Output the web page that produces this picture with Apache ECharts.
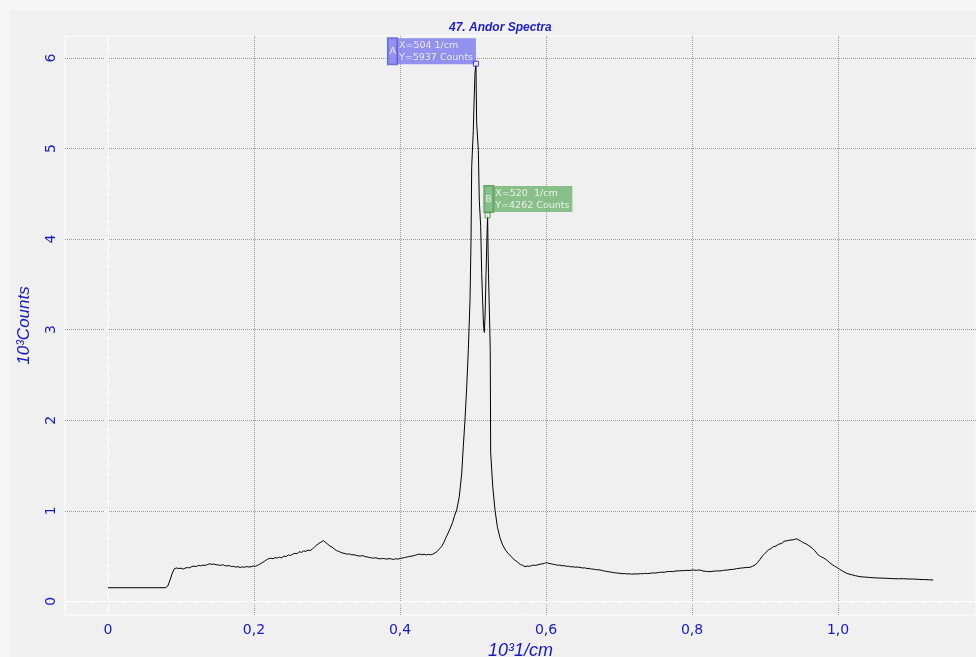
<!DOCTYPE html>
<html><head><meta charset="utf-8">
<script src="https://cdn.jsdelivr.net/npm/echarts@6/dist/echarts.min.js"></script>
<style>html,body{margin:0;padding:0;background:#f0f0f0}#c{width:976px;height:657px}</style>
</head><body><div id="c"></div>
<script>
// wavenumber in 10^3 1/cm
const wavenumber = [
0.000,0.040,0.079,0.082,0.085,0.088,0.091,0.094,0.097,0.100,0.103,0.106,0.109,0.112,0.115,0.118,0.121,0.124,0.127,0.130,
0.133,0.136,0.139,0.142,0.145,0.148,0.151,0.154,0.157,0.160,0.163,0.166,0.169,0.172,0.175,0.178,0.181,0.184,0.187,0.190,
0.193,0.196,0.199,0.202,0.205,0.208,0.211,0.214,0.217,0.220,0.223,0.226,0.229,0.232,0.235,0.238,0.241,0.244,0.247,0.250,
0.253,0.256,0.259,0.262,0.265,0.268,0.271,0.274,0.277,0.280,0.283,0.286,0.289,0.292,0.295,0.298,0.301,0.304,0.307,0.310,
0.313,0.316,0.319,0.322,0.325,0.328,0.331,0.334,0.337,0.340,0.343,0.346,0.349,0.352,0.355,0.358,0.361,0.364,0.367,0.370,
0.373,0.376,0.379,0.382,0.385,0.388,0.391,0.394,0.397,0.400,0.403,0.406,0.409,0.412,0.415,0.418,0.421,0.424,0.427,0.430,
0.433,0.436,0.439,0.442,0.445,0.448,0.451,0.454,0.457,0.460,0.463,0.466,0.469,0.472,0.4745,0.4777,0.4812,0.4845,0.4867,0.4890,
0.4914,0.4936,0.4959,0.4973,0.4982,0.5004,0.5014,0.5027,0.5040,0.5050,0.5073,0.5086,0.5105,0.5119,0.5133,0.5144,0.5155,0.5165,0.5178,0.5190,
0.5200,0.5206,0.5212,0.5222,0.5230,0.5236,0.5242,0.5270,0.5301,0.5333,0.5370,0.5407,0.5450,0.5480,0.5507,0.5540,0.5570,0.5600,0.5621,0.5650,
0.5680,0.5712,0.5740,0.5770,0.5800,0.5830,0.5860,0.5890,0.5920,0.5950,0.5980,0.6010,0.6040,0.6070,0.6100,0.6130,0.6160,0.6190,0.6220,0.6250,
0.6280,0.6310,0.6340,0.6370,0.6400,0.6430,0.6466,0.6500,0.6530,0.6560,0.6590,0.6620,0.6650,0.6680,0.6710,0.6740,0.6770,0.6800,0.6830,0.6860,
0.6890,0.6920,0.6950,0.6980,0.7014,0.7050,0.7080,0.7110,0.7140,0.7170,0.7196,0.7230,0.7260,0.7290,0.7320,0.7350,0.7390,0.7425,0.7460,0.7500,
0.7540,0.7580,0.7620,0.7653,0.7690,0.7730,0.7770,0.7810,0.7850,0.7881,0.7920,0.7960,0.8018,0.8060,0.8110,0.8150,0.8200,0.8247,0.8290,0.8340,
0.8384,0.8430,0.8480,0.8520,0.8566,0.8610,0.8660,0.8710,0.8750,0.8795,0.8830,0.8863,0.8900,0.8932,0.8970,0.9000,0.9023,0.9050,0.9080,0.9114,
0.9150,0.9180,0.9205,0.9230,0.9260,0.9297,0.9320,0.9340,0.9366,0.9390,0.9410,0.9434,0.9460,0.9490,0.9525,0.9560,0.9590,0.9616,0.9650,0.9680,
0.9700,0.9730,0.9760,0.9800,0.9845,0.9880,0.9920,0.9950,0.9982,1.0020,1.0060,1.0119,1.0180,1.0240,1.0301,1.0360,1.0420,1.0484,1.0560,1.0640,
1.0700,1.0757,1.0830,1.0900,1.0960,1.1032,1.1100,1.1170,1.1240,1.1305
];
// counts in 10^3
const counts = [
0.150,0.150,0.150,0.170,0.235,0.310,0.360,0.368,0.362,0.366,0.355,0.368,0.372,0.370,0.385,0.388,0.384,0.396,0.392,0.400,
0.396,0.405,0.414,0.408,0.412,0.404,0.402,0.396,0.404,0.394,0.390,0.395,0.384,0.386,0.378,0.382,0.374,0.380,0.376,0.384,
0.378,0.382,0.390,0.386,0.398,0.410,0.425,0.440,0.458,0.470,0.476,0.470,0.482,0.478,0.488,0.480,0.500,0.494,0.512,0.506,
0.520,0.530,0.526,0.548,0.540,0.556,0.552,0.566,0.560,0.578,0.600,0.622,0.640,0.655,0.670,0.650,0.630,0.611,0.598,0.578,
0.560,0.552,0.540,0.532,0.526,0.520,0.524,0.512,0.515,0.506,0.502,0.500,0.505,0.494,0.490,0.484,0.480,0.476,0.481,0.472,
0.468,0.474,0.470,0.466,0.472,0.468,0.462,0.470,0.466,0.472,0.478,0.482,0.488,0.494,0.498,0.502,0.510,0.516,0.522,0.514,
0.520,0.512,0.518,0.514,0.520,0.535,0.552,0.580,0.605,0.650,0.705,0.755,0.810,0.870,0.940,1.010,1.155,1.410,1.710,2.000,
2.370,2.780,3.330,3.990,4.800,5.200,5.500,5.830,5.937,5.280,4.980,4.430,4.140,3.620,3.290,3.050,2.970,3.150,3.600,4.000,
4.262,3.900,3.620,3.620,3.000,2.780,1.640,1.270,1.010,0.824,0.700,0.620,0.560,0.530,0.511,0.480,0.455,0.440,0.420,0.405,
0.398,0.382,0.390,0.386,0.394,0.400,0.396,0.404,0.410,0.414,0.420,0.427,0.418,0.414,0.408,0.404,0.398,0.400,0.392,0.394,
0.386,0.388,0.380,0.382,0.376,0.378,0.375,0.368,0.370,0.362,0.364,0.356,0.355,0.350,0.348,0.346,0.340,0.334,0.330,0.326,
0.322,0.318,0.314,0.312,0.309,0.305,0.306,0.302,0.304,0.300,0.300,0.303,0.301,0.306,0.304,0.308,0.306,0.309,0.314,0.312,
0.318,0.322,0.320,0.327,0.330,0.328,0.334,0.336,0.338,0.338,0.342,0.340,0.346,0.342,0.346,0.334,0.330,0.327,0.332,0.336,
0.335,0.342,0.345,0.350,0.353,0.360,0.366,0.370,0.374,0.375,0.388,0.400,0.430,0.464,0.505,0.530,0.548,0.570,0.582,0.603,
0.610,0.628,0.647,0.640,0.662,0.669,0.655,0.675,0.660,0.680,0.670,0.690,0.678,0.665,0.647,0.635,0.620,0.603,0.585,0.560,
0.555,0.511,0.495,0.480,0.456,0.430,0.405,0.390,0.375,0.355,0.335,0.309,0.295,0.282,0.272,0.268,0.264,0.260,0.257,0.255,
0.252,0.250,0.248,0.250,0.246,0.246,0.242,0.240,0.238,0.235
];
const xTickValues = [0, 0.2, 0.4, 0.6, 0.8, 1.0];
const xTickLabels = ['0', '0,2', '0,4', '0,6', '0,8', '1,0'];
const yTickValues = [0, 1, 2, 3, 4, 5, 6];
const yTickLabels = ['0', '1', '2', '3', '4', '5', '6'];
const cursorNames = ['A', 'B'];
const cursorX = [0.504, 0.520];
const cursorY = [5.937, 4.262];
const cursorXText = ['X=504 1/cm', 'X=520  1/cm'];
const cursorYText = ['Y=5937 Counts', 'Y=4262 Counts'];

const X_MIN = -0.0589, X_MAX = 1.189, Y_MIN = -0.1513, Y_MAX = 6.243;
const blue = '#1818c4';
const boxColors = ['#7b7bee', '#6fb36f'];
const stripBorder = ['#5050c8', '#4a944a'];
const markerColors = ['#1a1acc', '#2a8a2a'];

const minorX = []; for (let v = -0.04; v < X_MAX; v += 0.02) minorX.push(+v.toFixed(3));
const minorY = []; for (let v = -0.1; v < Y_MAX; v += 0.1) minorY.push(+v.toFixed(2));

const lineData = wavenumber.map((x, i) => [x, counts[i]]);

const textBoxes = cursorNames.map((n, i) => ({
  value: [cursorX[i], cursorY[i]],
  label: {
    show: true, position: 'inside',
    formatter: '{t|' + cursorXText[i] + '}\n{t|' + cursorYText[i] + '}',
    align: i === 0 ? 'right' : 'left', verticalAlign: 'bottom',
    offset: i === 0 ? [0, 0.5] : [5.7, -3.3],
    backgroundColor: boxColors[i], padding: [1, 2, 1, 2], width: 75,
    rich: { t: { align: 'left', color: '#fff', fontSize: 9.5, lineHeight: 12, fontFamily: 'DejaVu Sans' } }
  }
}));
const strips = cursorNames.map((n, i) => ({
  value: [cursorX[i], cursorY[i]],
  label: {
    show: true, position: 'inside', formatter: n,
    align: i === 0 ? 'right' : 'left', verticalAlign: 'bottom',
    offset: i === 0 ? [-79, 0.5] : [-3.3, -3.3],
    color: '#fff', fontSize: 9.5, lineHeight: 12, fontFamily: 'DejaVu Sans',
    backgroundColor: boxColors[i], borderColor: stripBorder[i], borderWidth: 1,
    padding: [7, 1, 7, 1], width: 7
  }
}));
const markers = cursorNames.map((n, i) => ({
  value: [cursorX[i], cursorY[i]],
  itemStyle: { color: '#f4f4f4', borderColor: markerColors[i], borderWidth: 1 }
}));

const chart = echarts.init(document.getElementById('c'), null, { renderer: 'canvas' });
chart.setOption({
  animation: false,
  backgroundColor: '#f0f0f0',
  graphic: [
    { type: 'rect', left: 0, top: 0, shape: { width: 9, height: 657 }, style: { fill: '#f7f7f7' }, silent: true, z: -10 },
    { type: 'rect', left: 0, top: 0, shape: { width: 976, height: 10 }, style: { fill: '#f7f7f7' }, silent: true, z: -10 }
  ],
  title: {
    text: '47. Andor Spectra', left: 444, top: 17,
    textStyle: { color: '#2020c8', fontSize: 12, fontWeight: 'bold', fontStyle: 'italic', fontFamily: 'Liberation Sans' }
  },
  grid: { left: 65, top: 36, right: 0, bottom: 42, show: true, borderColor: '#ffffff', borderWidth: 1, backgroundColor: '#f0f0f0', containLabel: false, outerBoundsMode: 'none' },
  xAxis: [{
    type: 'value', min: X_MIN, max: X_MAX,
    axisLine: { show: true, lineStyle: { color: '#ffffff' } },
    axisTick: { show: true, customValues: xTickValues, length: 3, lineStyle: { color: '#c0c0c0' } },
    axisLabel: { show: true, customValues: xTickValues, margin: 8, color: blue, fontSize: 14, fontFamily: 'DejaVu Sans',
      formatter: v => xTickLabels[xTickValues.findIndex(t => Math.abs(t - v) < 1e-6)] },
    splitLine: { show: true, lineStyle: { color: '#9a9a9a', type: [1, 1], width: 1 } },
    name: '10³1/cm', nameLocation: 'middle', nameGap: 27,
    nameTextStyle: { color: blue, fontSize: 18, fontStyle: 'italic', fontFamily: 'Liberation Sans' }
  }, {
    type: 'value', min: X_MIN, max: X_MAX, position: 'bottom',
    axisLine: { show: false }, axisLabel: { show: false }, splitLine: { show: false },
    axisTick: { show: true, customValues: minorX, length: 3, lineStyle: { color: '#ffffff' } }
  }],
  yAxis: [{
    type: 'value', min: Y_MIN, max: Y_MAX,
    axisLine: { show: true, lineStyle: { color: '#ffffff' } },
    axisTick: { show: true, customValues: yTickValues, length: 3, lineStyle: { color: '#c0c0c0' } },
    axisLabel: { show: true, customValues: yTickValues, margin: 7, rotate: 90, color: blue, fontSize: 14, fontFamily: 'DejaVu Sans',
      formatter: v => yTickLabels[yTickValues.findIndex(t => Math.abs(t - v) < 1e-6)] },
    splitLine: { show: true, lineStyle: { color: '#9a9a9a', type: [1, 1], width: 1 } },
    name: '10³Counts', nameLocation: 'middle', nameGap: 32, nameRotate: 90,
    nameTextStyle: { color: blue, fontSize: 17, fontStyle: 'italic', fontFamily: 'Liberation Sans' }
  }, {
    type: 'value', min: Y_MIN, max: Y_MAX, position: 'left',
    axisLine: { show: false }, axisLabel: { show: false }, splitLine: { show: false },
    axisTick: { show: true, customValues: minorY, length: 3, lineStyle: { color: '#ffffff' } }
  }],
  series: [
    { type: 'line', data: lineData, showSymbol: false, symbol: 'none', lineStyle: { color: '#000000', width: 1 }, z: 2, silent: true },
    { type: 'scatter', data: textBoxes, symbolSize: 1, itemStyle: { color: 'rgba(0,0,0,0)' }, z: 3, silent: true },
    { type: 'scatter', data: strips, symbolSize: 1, itemStyle: { color: 'rgba(0,0,0,0)' }, z: 3, silent: true },
    { type: 'scatter', data: markers, symbol: 'rect', symbolSize: 5, z: 5, silent: true }
  ]
});
</script></body></html>
